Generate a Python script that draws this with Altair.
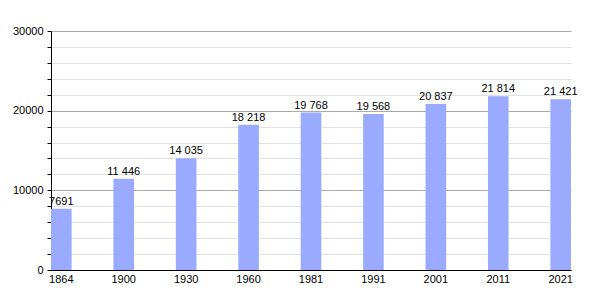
import altair as alt
import pandas as pd

years = ["1864", "1900", "1930", "1960", "1981", "1991", "2001", "2011", "2021"]
population = [7691, 11446, 14035, 18218, 19768, 19568, 20837, 21814, 21421]

df = pd.DataFrame({"year": years, "pop": population})

FONT = "Liberation Sans"

x = alt.X("year:N", sort=years, title=None,
          scale=alt.Scale(paddingInner=0.67, paddingOuter=0),
          axis=alt.Axis(labelAngle=0, ticks=False, domainColor="black",
                        labelColor="black", labelFontSize=11, labelFont=FONT,
                        labelPadding=3, domainWidth=1))

y = alt.Y("pop:Q", title=None,
          scale=alt.Scale(domain=[0, 30000], nice=False, zero=True),
          axis=alt.Axis(values=list(range(0, 30001, 2000)),
                        labelExpr="datum.value % 10000 === 0 ? format(datum.value, 'd') : ''",
                        grid=True,
                        gridColor=alt.condition("datum.value % 10000 === 0", alt.value("#aaaaaa"), alt.value("#e2e2e2")),
                        gridWidth=1,
                        tickColor="black", tickSize=4,
                        domainColor="black", labelColor="black",
                        labelFontSize=11, labelFont=FONT, labelPadding=4))

base = alt.Chart(df).encode(x=x, y=y)

bars = base.mark_bar(color="#99aaff")

text = base.transform_calculate(
    label="datum.pop >= 10000 ? replace(format(datum.pop, ','), ',', ' ') : format(datum.pop, 'd')"
).mark_text(baseline="bottom", dy=-2, fontSize=11, font=FONT, color="black").encode(
    text="label:N",
)

chart = alt.layer(bars, text).properties(
    width=520, height=239,
    background="white",
    autosize=alt.AutoSizeParams(type="none"),
    padding={"left": 51, "top": 31, "right": 29, "bottom": 30},
).configure_view(stroke=None)

chart.save("out.html", embed_options={"renderer": "svg", "actions": False})
